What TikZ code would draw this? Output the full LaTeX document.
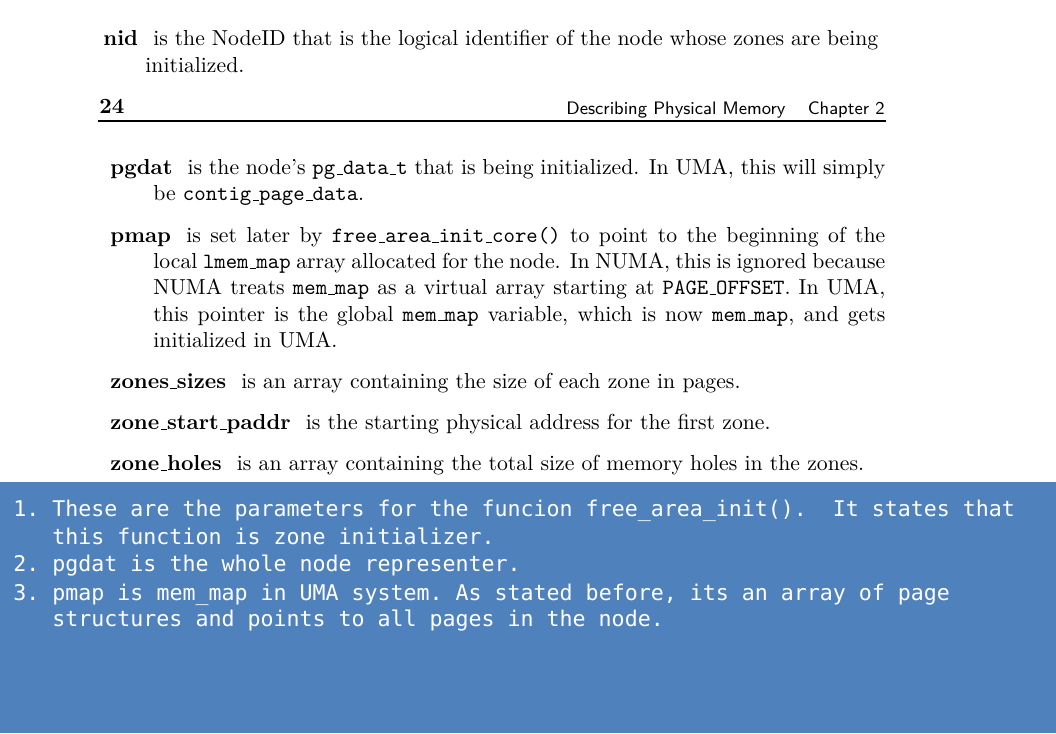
\documentclass[tikz,border=0pt]{standalone}
\usepackage{fontspec}
\newfontfamily\notefont{DejaVu Sans Mono}
\definecolor{noteblue}{RGB}{79,129,189}
\def\fullw{371.2pt} \def\indw{350.6pt}
\newcommand\usc{\leavevmode\kern.06em\vbox{\hrule width.3em}}
\tikzset{
	bodyline/.style={inner sep=0pt, anchor=base west, font=\fontsize{10.4}{12.5}\selectfont},
	headline/.style={inner sep=0pt, font=\fontsize{8.65}{10}\selectfont\sffamily},
	noteline/.style={inner sep=0pt, anchor=base west, text=white, font=\fontsize{10.35}{12}\selectfont\notefont\frenchspacing}
}
\begin{document}
\begin{tikzpicture}[x=0.479pt, y=0.479pt]
	\useasboundingbox (0,0) rectangle (1056,733);
	% previous page, last item
	\node[bodyline] (nid1) at (103,687) {\makebox[\fullw][s]{\textbf{nid}\hspace{.7em}is the NodeID that is the logical identifier of the node whose zones are being}};
	\node[bodyline] (nid2) at (145,660.7) {initialized.};
	% running head
	\node[bodyline, font=\fontsize{10.4}{12.5}\selectfont\bfseries] (pageno) at (99,619) {24};
	\node[headline, anchor=base west] (headtitle) at (566,618) {Describing Physical Memory};
	\node[headline, anchor=base east] (headchap) at (885,618) {Chapter 2};
	\draw[line width=0.6pt] (98,612) -- (886,612);
	% parameter list
	\node[bodyline] (pgdat1) at (110,558) {\makebox[\fullw][s]{\textbf{pgdat}\hspace{.7em}is the node's \texttt{pg\usc data\usc t} that is being initialized. In UMA, this will simply}};
	\node[bodyline] (pgdat2) at (153,532) {be \texttt{contig\usc page\usc data}.};
	\node[bodyline] (pmap1) at (110,490.5) {\makebox[\fullw][s]{\textbf{pmap}\hspace{.7em}is set later by \texttt{free\usc area\usc init\usc core()} to point to the beginning of the}};
	\node[bodyline] (pmap2) at (153,464.3) {\makebox[\indw][s]{local \texttt{lmem\usc map} array allocated for the node. In NUMA, this is ignored because}};
	\node[bodyline] (pmap3) at (153,438.1) {\makebox[\indw][s]{NUMA treats \texttt{mem\usc map} as a virtual array starting at \texttt{PAGE\usc OFFSET}. In UMA,}};
	\node[bodyline] (pmap4) at (153,411.9) {\makebox[\indw][s]{this pointer is the global \texttt{mem\usc map} variable, which is now \texttt{mem\usc map}, and gets}};
	\node[bodyline] (pmap5) at (153,385.7) {initialized in UMA.};
	\node[bodyline] (sizes) at (110,344.5) {\textbf{zones\usc sizes}\hspace{.7em}is an array containing the size of each zone in pages.};
	\node[bodyline] (paddr) at (110,303.5) {\textbf{zone\usc start\usc paddr}\hspace{.7em}is the starting physical address for the first zone.};
	\node[bodyline] (holes) at (110,262) {\textbf{zone\usc holes}\hspace{.7em}is an array containing the total size of memory holes in the zones.};
	% note box
	\fill[noteblue] (0,0) rectangle (1056,251);
	\node[noteline] (note1) at (13,216.3) {1. These are the parameters for the funcion free\_area\_init().\ \ It states that};
	\node[noteline] (note1b) at (52,188.7) {this function is zone initializer.};
	\node[noteline] (note2) at (13,161.3) {2. pgdat is the whole node representer.};
	\node[noteline] (note3) at (13,133) {3. pmap is mem\_map in UMA system. As stated before, its an array of page};
	\node[noteline] (note3b) at (52,106.3) {structures and points to all pages in the node.};
\end{tikzpicture}
\end{document}
